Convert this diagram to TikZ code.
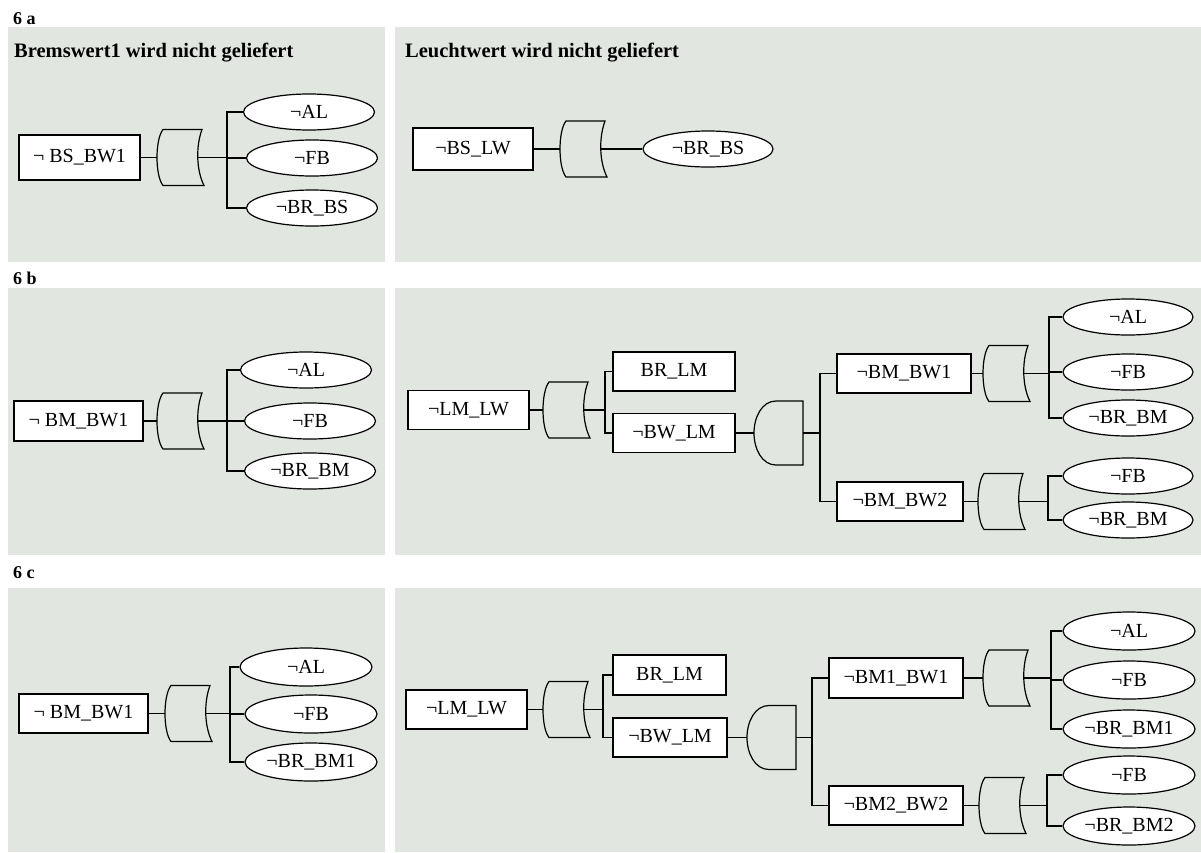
\documentclass[tikz,border=0pt]{standalone}
\usepackage{fontspec}
\setmainfont{Liberation Serif}
\usetikzlibrary{shapes.geometric}

\definecolor{panelgray}{RGB}{226,230,225}

\tikzset{
  panel/.style={fill=panelgray, draw=none},
  rowlabel/.style={anchor=west, inner sep=0pt, font=\fontsize{18}{20}\selectfont\bfseries},
  paneltitle/.style={anchor=west, inner sep=0pt, font=\fontsize{20.5}{24}\selectfont\bfseries},
  eventbox/.style={draw, line width=1.2pt, fill=white, minimum height=39pt, inner sep=0pt, font=\fontsize{20}{24}\selectfont},
  basicevent/.style={draw, ellipse, line width=1.2pt, fill=white, minimum width=131pt, minimum height=36pt, inner sep=0pt, font=\fontsize{20}{24}\selectfont},
  wire/.style={line width=1.2pt},
  orgate/.pic={
    \draw[wire] (-17,-28) -- (22,-28) .. controls (16,-12) and (16,12) .. (24,28) -- (-17,28) .. controls (-25,18) and (-25,-18) .. (-17,-28) -- cycle;
    \coordinate (-l) at (-23,0);
    \coordinate (-r) at (17.75,0);
  },
  andgate/.pic={
    \draw[wire] (24,-32) -- (-3,-32) .. controls (-17,-32) and (-25,-16) .. (-25,0) .. controls (-25,16) and (-17,32) .. (-3,32) -- (24,32) -- cycle;
    \coordinate (-l) at (-25,0);
    \coordinate (-r) at (24,0);
  }
}

\begin{document}
\begin{tikzpicture}[x=1pt, y=-1pt]

	\useasboundingbox (0,0) rectangle (1201,852);

	% --- PANELS ---
	\fill[panel] (8,27) rectangle (385,262);
	\fill[panel] (395,27) rectangle (1201,262);
	\fill[panel] (8,288) rectangle (385,555);
	\fill[panel] (395,288) rectangle (1201,555);
	\fill[panel] (8,588) rectangle (385,852);
	\fill[panel] (395,588) rectangle (1201,852);

	\node[rowlabel] (LabelA) at (13,19) {6 a};
	\node[rowlabel] (LabelB) at (13,278) {6 b};
	\node[rowlabel] (LabelC) at (13,573) {6 c};

	\node[paneltitle] (TitleBW) at (14,53) {Bremswert1 wird nicht geliefert};
	\node[paneltitle] (TitleLW) at (405,53) {Leuchtwert wird nicht geliefert};

	% --- ROW 6a, LEFT ---
	\node[eventbox, minimum width=121pt, minimum height=45pt] (BSBW1a) at (79.5,157.5) {¬ BS\_BW1};
	\pic (OrA1) at (180,157.5) {orgate};
	\coordinate (JA1) at (227,157.5);
	\node[basicevent] (ALa) at (309,112) {¬AL};
	\node[basicevent] (FBa) at (312,158) {¬FB};
	\node[basicevent] (BRBSa) at (312,208) {¬BR\_BS};
	\draw[wire] (BSBW1a.east) -- (OrA1-l);
	\draw[wire] (OrA1-r) -- (JA1);
	\draw[wire] (JA1) |- (ALa);
	\draw[wire] (JA1) |- (FBa);
	\draw[wire] (JA1) |- (BRBSa);

	% --- ROW 6a, RIGHT ---
	\node[eventbox, minimum width=120pt, minimum height=42pt] (BSLW) at (473,149) {¬BS\_LW};
	\pic (OrA2) at (583,149) {orgate};
	\node[basicevent, minimum width=130pt] (BRBSb) at (708,149) {¬BR\_BS};
	\draw[wire] (BSLW.east) -- (OrA2-l);
	\draw[wire] (OrA2-r) -- (BRBSb);

	% --- ROW 6b, LEFT ---
	\node[eventbox, minimum width=129pt, minimum height=40pt] (BMBW1a) at (78.5,421) {¬ BM\_BW1};
	\pic (OrB1) at (180,421) {orgate};
	\coordinate (JB1) at (227,421);
	\node[basicevent] (ALb) at (306,370) {¬AL};
	\node[basicevent] (FBb) at (310,421) {¬FB};
	\node[basicevent] (BRBMa) at (310,471) {¬BR\_BM};
	\draw[wire] (BMBW1a.east) -- (OrB1-l);
	\draw[wire] (OrB1-r) -- (JB1);
	\draw[wire] (JB1) |- (ALb);
	\draw[wire] (JB1) |- (FBb);
	\draw[wire] (JB1) |- (BRBMa);

	% --- ROW 6b, RIGHT ---
	\node[eventbox, minimum width=121pt] (LMLWb) at (468.5,410) {¬LM\_LW};
	\pic (OrB2) at (566,410) {orgate};
	\coordinate (JB2) at (605,410);
	\node[eventbox, minimum width=122pt] (BRLMb) at (674,371.5) {BR\_LM};
	\node[eventbox, minimum width=122pt] (BWLMb) at (674,433) {¬BW\_LM};
	\draw[wire] (LMLWb.east) -- (OrB2-l);
	\draw[wire] (OrB2-r) -- (JB2);
	\draw[wire] (JB2) |- (BRLMb);
	\draw[wire] (JB2) |- (BWLMb);

	\pic (AndB) at (779,433) {andgate};
	\coordinate (JB3) at (820,433);
	\node[eventbox, minimum width=134pt] (BMBW1b) at (904,373.5) {¬BM\_BW1};
	\node[eventbox, minimum width=126pt] (BMBW2b) at (900,501.5) {¬BM\_BW2};
	\draw[wire] (BWLMb.east) -- (AndB-l);
	\draw[wire] (AndB-r) -- (JB3);
	\draw[wire] (JB3) |- (BMBW1b);
	\draw[wire] (JB3) |- (BMBW2b);

	\pic (OrB3) at (1006,373.5) {orgate};
	\coordinate (JB4) at (1049,373.5);
	\node[basicevent, minimum width=130pt] (ALc) at (1128,317) {¬AL};
	\node[basicevent, minimum width=130pt] (FBc) at (1128,372) {¬FB};
	\node[basicevent, minimum width=130pt] (BRBMb) at (1128,418) {¬BR\_BM};
	\draw[wire] (BMBW1b.east) -- (OrB3-l);
	\draw[wire] (OrB3-r) -- (JB4);
	\draw[wire] (JB4) |- (ALc);
	\draw[wire] (JB4) |- (FBc);
	\draw[wire] (JB4) |- (BRBMb);

	\pic (OrB4) at (1001,501.5) {orgate};
	\coordinate (JB5) at (1048,501.5);
	\node[basicevent, minimum width=130pt] (FBd) at (1128,476) {¬FB};
	\node[basicevent, minimum width=130pt] (BRBMc) at (1128,520) {¬BR\_BM};
	\draw[wire] (BMBW2b.east) -- (OrB4-l);
	\draw[wire] (OrB4-r) -- (JB5);
	\draw[wire] (JB5) |- (FBd);
	\draw[wire] (JB5) |- (BRBMc);

	% --- ROW 6c, LEFT ---
	\node[eventbox, minimum width=129pt] (BMBW1c) at (83.5,713.5) {¬ BM\_BW1};
	\pic (OrC1) at (188,713.5) {orgate};
	\coordinate (JC1) at (230,713.5);
	\node[basicevent, minimum width=132pt, minimum height=38pt] (ALd) at (306,667) {¬AL};
	\node[basicevent, minimum width=132pt, minimum height=38pt] (FBe) at (311,714) {¬FB};
	\node[basicevent, minimum width=132pt, minimum height=38pt] (BRBM1a) at (311,762) {¬BR\_BM1};
	\draw[wire] (BMBW1c.east) -- (OrC1-l);
	\draw[wire] (OrC1-r) -- (JC1);
	\draw[wire] (JC1) |- (ALd);
	\draw[wire] (JC1) |- (FBe);
	\draw[wire] (JC1) |- (BRBM1a);

	% --- ROW 6c, RIGHT ---
	\node[eventbox, minimum width=121pt] (LMLWc) at (466.5,709.5) {¬LM\_LW};
	\pic (OrC2) at (566,709.5) {orgate};
	\coordinate (JC2) at (603,709.5);
	\node[eventbox, minimum width=113pt, minimum height=40pt] (BRLMc) at (669.5,675) {BR\_LM};
	\node[eventbox, minimum width=114pt] (BWLMc) at (670,737.5) {¬BW\_LM};
	\draw[wire] (LMLWc.east) -- (OrC2-l);
	\draw[wire] (OrC2-r) -- (JC2);
	\draw[wire] (JC2) |- (BRLMc);
	\draw[wire] (JC2) |- (BWLMc);

	\pic (AndC) at (772,737.5) {andgate};
	\coordinate (JC3) at (812,737.5);
	\node[eventbox, minimum width=134pt, minimum height=40pt] (BM1BW1) at (896,678) {¬BM1\_BW1};
	\node[eventbox, minimum width=134pt] (BM2BW2) at (896,805.5) {¬BM2\_BW2};
	\draw[wire] (BWLMc.east) -- (AndC-l);
	\draw[wire] (AndC-r) -- (JC3);
	\draw[wire] (JC3) |- (BM1BW1);
	\draw[wire] (JC3) |- (BM2BW2);

	\pic (OrC3) at (1006,678) {orgate};
	\coordinate (JC4) at (1051,678);
	\node[basicevent, minimum width=132pt, minimum height=38pt] (ALe) at (1129,631) {¬AL};
	\node[basicevent, minimum width=132pt, minimum height=38pt] (FBf) at (1129,680) {¬FB};
	\node[basicevent, minimum width=132pt, minimum height=38pt] (BRBM1b) at (1129,729) {¬BR\_BM1};
	\draw[wire] (BM1BW1.east) -- (OrC3-l);
	\draw[wire] (OrC3-r) -- (JC4);
	\draw[wire] (JC4) |- (ALe);
	\draw[wire] (JC4) |- (FBf);
	\draw[wire] (JC4) |- (BRBM1b);

	\pic (OrC4) at (1002,805.5) {orgate};
	\coordinate (JC5) at (1047,805.5);
	\node[basicevent, minimum width=132pt, minimum height=38pt] (FBg) at (1129,775) {¬FB};
	\node[basicevent, minimum width=132pt, minimum height=38pt] (BRBM2) at (1129,826) {¬BR\_BM2};
	\draw[wire] (BM2BW2.east) -- (OrC4-l);
	\draw[wire] (OrC4-r) -- (JC5);
	\draw[wire] (JC5) |- (FBg);
	\draw[wire] (JC5) |- (BRBM2);

\end{tikzpicture}
\end{document}
